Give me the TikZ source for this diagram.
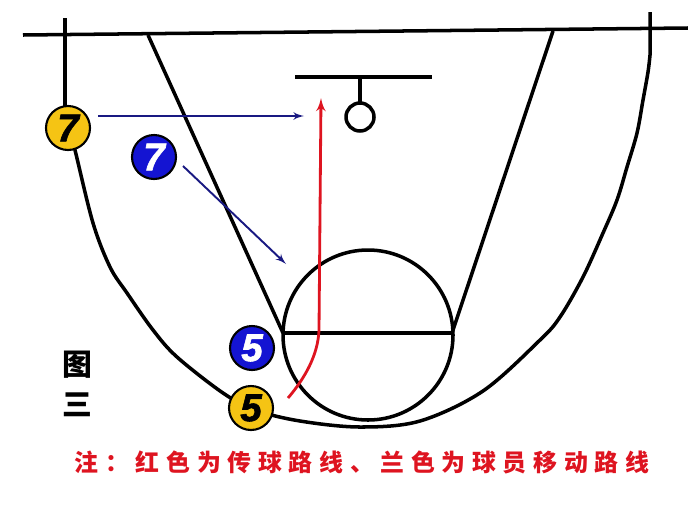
\documentclass[tikz,border=0pt]{standalone}
\usepackage{fontspec}
\newfontfamily\numfont[BoldItalicFeatures={FakeBold=1.5}]{Liberation Sans}
\newfontfamily\cjk{Noto Sans CJK SC}
\usetikzlibrary{arrows}
\definecolor{ballyellow}{RGB}{245,196,20}
\definecolor{playerblue}{RGB}{20,20,210}
\definecolor{passred}{RGB}{222,20,32}
\definecolor{movenavy}{RGB}{25,25,130}
\tikzset{court/.style = {line width=2pt,line join=round}}
\tikzset{offense/.style = {shape=circle,draw,line width=1.2pt,fill=ballyellow,minimum size=0.88cm,inner sep=0pt,font=\numfont\bfseries\itshape\fontsize{22}{22}\selectfont}}
\tikzset{mover/.style = {offense,fill=playerblue,text=white}}
\tikzset{pass/.style = {->,> = latex',draw=passred,line width=1.6pt}}
\tikzset{run/.style = {->,> = latex',draw=movenavy,line width=1.1pt}}

\begin{document}
\begin{tikzpicture}[x=0.02cm,y=-0.02cm]
\useasboundingbox (0,0) rectangle (688,504);

\draw[court] (23,35) -- (688,28);
\draw[court] (148,35) -- (283,333);
\draw[court] (553,31) -- (452,333);
\draw[court] (283,333) -- (452,333);
\draw[court] (368,335) circle (85);

\draw[court] (295,77) -- (432,77);
\draw[court] (360,77) -- (360,103);
\draw[court] (360,117) circle (14);

\draw[court] (65,18) -- (65,110)
  -- plot[smooth,tension=0.55] coordinates {(65,110) (75,150) (93,223) (110,267)
  (127,293) (153,330) (177,357) (223,393) (255,410) (300,421) (360,427)
  (420,421) (483,391) (540,340) (560,317) (583,277) (603,233) (617,200)
  (627,167) (637,133) (643,100) (648,72) (650,55)}
  -- (650,12);

\coordinate (rs) at (288,398);
\coordinate (rt) at (321,98);
\draw[pass] (rs)
  .. controls (305,378) and (318,355) .. (319,330) -- (rt);

\coordinate (m1s) at (98,116);
\coordinate (m1e) at (304,116);
\draw[run] (m1s) -- (m1e);

\coordinate (m2s) at (183,166);
\coordinate (m2e) at (286,264);
\draw[run] (m2s) -- (m2e);

\node[offense] (y7) at (68,128) {7};
\node[mover] (b7) at (154,157) {7};
\node[mover] (b5) at (252,348) {5};
\node[offense] (y5) at (251,408) {5};

\node[font=\cjk\bfseries\fontsize{17}{17}\selectfont] (fig) at (77,365) {图};
\node[font=\cjk\bfseries\fontsize{17}{17}\selectfont] (three) at (77,405) {三};

\node[text=passred,font=\cjk\bfseries\addfontfeature{LetterSpace=28}\fontsize{13.6}{14}\selectfont] (note) at (362,462) {注：红色为传球路线、兰色为球员移动路线};

\end{tikzpicture}
\end{document}
